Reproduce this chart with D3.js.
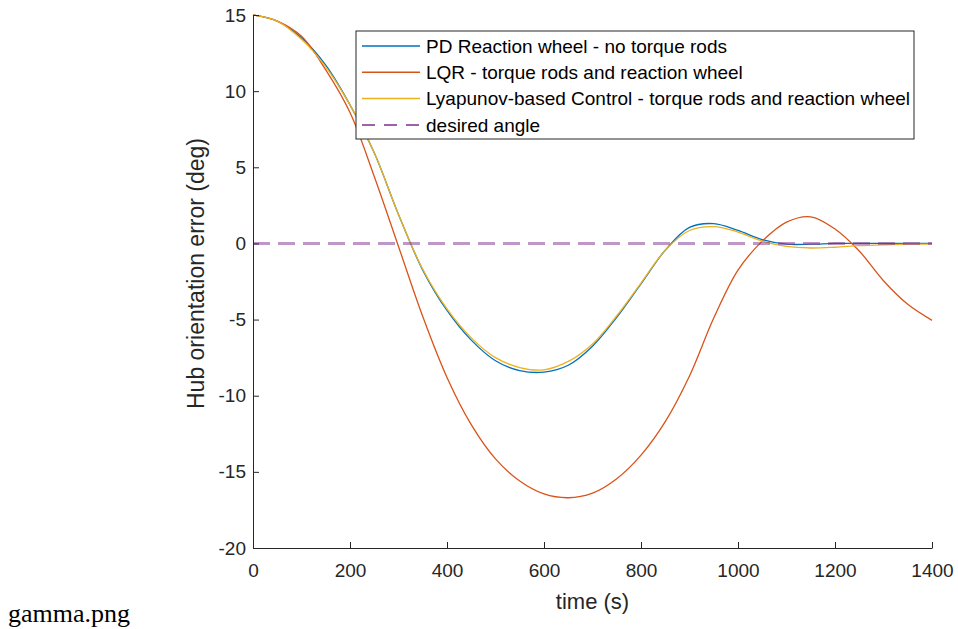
<!DOCTYPE html>
<html>
<head>
<meta charset="utf-8">
<script src="https://cdn.jsdelivr.net/npm/d3@7"></script>
<style>
  body { margin: 0; background: #fff; }
  svg { display: block; }
  .axis text { font-family: "Liberation Sans", Arial, sans-serif; font-size: 19px; fill: #262626; }
  .axis path, .axis line { stroke: #262626; }
  .label { font-family: "Liberation Sans", Arial, sans-serif; font-size: 22px; fill: #262626; }
  .legend text { font-family: "Liberation Sans", Arial, sans-serif; font-size: 19px; fill: #000; }
  .caption { font-family: "Liberation Serif", "Times New Roman", serif; font-size: 26px; fill: #000; }
</style>
</head>
<body>
<div id="viz"></div>
<script>
// time samples (s)
var times = [0, 50, 100, 150, 200, 250, 300, 350, 400, 450, 500, 550, 600, 650, 700,
             750, 800, 850, 900, 950, 1000, 1050, 1100, 1150, 1200, 1250, 1300, 1350, 1400];

// hub orientation error (deg)
var pdVals   = [15.0, 14.6, 13.5, 11.7, 9.1, 5.95, 1.9, -1.75, -4.4, -6.35, -7.7, -8.35, -8.45, -8.0, -6.75,
                -4.85, -2.65, -0.45, 1.05, 1.3, 0.85, 0.25, -0.05, -0.05, 0.0, 0.0, 0.0, 0.0, 0.0];
var lqrVals  = [15.0, 14.6, 13.6, 11.4, 8.6, 4.4, -0.2, -4.8, -8.8, -11.9, -14.15, -15.6, -16.45, -16.7, -16.4,
                -15.45, -13.9, -11.7, -8.7, -4.9, -1.75, 0.15, 1.4, 1.75, 0.95, -0.5, -2.45, -4.0, -5.05];
var lyapVals = [15.0, 14.6, 13.4, 11.6, 9.1, 5.95, 1.9, -1.7, -4.3, -6.2, -7.5, -8.15, -8.3, -7.75, -6.6,
                -4.75, -2.6, -0.45, 0.85, 1.1, 0.75, 0.15, -0.2, -0.3, -0.25, -0.15, -0.1, -0.05, -0.05];
var desiredT = [0, 1400];
var desiredVals = [0, 0];

var xTicks = [0, 200, 400, 600, 800, 1000, 1200, 1400];
var yTicks = [-20, -15, -10, -5, 0, 5, 10, 15];

var seriesNames = ['PD Reaction wheel - no torque rods',
                   'LQR - torque rods and reaction wheel',
                   'Lyapunov-based Control - torque rods and reaction wheel',
                   'desired angle'];
var seriesColors = ['#0072BD', '#D95319', '#EDB120', '#7E2F8E'];

var W = 958, H = 629;
var pLeft = 253, pRight = 932, pTop = 15, pBottom = 548;

var svg = d3.select('#viz')
  .append('svg')
  .attr('width', W)
  .attr('height', H);

var x = d3.scaleLinear().domain([0, 1400]).range([pLeft, pRight]);
var y = d3.scaleLinear().domain([-20, 15]).range([pBottom, pTop]);

function pts(ts, vs) {
  return ts.map(function(t, i) { return [t, vs[i]]; });
}

var line = d3.line()
  .x(function(d) { return x(d[0]); })
  .y(function(d) { return y(d[1]); })
  .curve(d3.curveCatmullRom);

var series = [pts(times, pdVals), pts(times, lqrVals), pts(times, lyapVals)];

svg.append('g')
  .selectAll('path')
  .data(series)
  .enter()
  .append('path')
  .attr('d', line)
  .attr('fill', 'none')
  .attr('stroke', function(d, i) { return seriesColors[i]; })
  .attr('stroke-width', 1.3);

// desired angle
svg.append('path')
  .attr('d', line.curve(d3.curveLinear)(pts(desiredT, desiredVals)))
  .attr('fill', 'none')
  .attr('stroke', seriesColors[3])
  .attr('stroke-opacity', 0.5)
  .attr('stroke-width', 3)
  .attr('stroke-dasharray', '17,8');

// axes, ticks pointing inward like matlab
svg.append('g')
  .attr('class', 'axis')
  .attr('transform', 'translate(0,' + pBottom + ')')
  .call(d3.axisBottom(x).tickValues(xTicks).tickFormat(d3.format('d'))
    .tickSizeInner(-6).tickSizeOuter(0).tickPadding(16));

svg.append('g')
  .attr('class', 'axis')
  .attr('transform', 'translate(' + pLeft + ',0)')
  .call(d3.axisLeft(y).tickValues(yTicks).tickFormat(d3.format('d'))
    .tickSizeInner(-6).tickSizeOuter(0).tickPadding(7));

svg.selectAll('.axis text').text(function(d) { return String(d); });

svg.append('text')
  .attr('class', 'label')
  .attr('x', (pLeft + pRight) / 2)
  .attr('y', 609)
  .attr('text-anchor', 'middle')
  .text('time (s)');

svg.append('text')
  .attr('class', 'label')
  .style('font-size', '23px')
  .attr('transform', 'translate(204,' + ((pTop + pBottom) / 2 - 8) + ') rotate(-90)')
  .attr('text-anchor', 'middle')
  .text('Hub orientation error (deg)');

// legend
var lg = svg.append('g').attr('class', 'legend');
lg.append('rect')
  .attr('x', 356).attr('y', 31)
  .attr('width', 558).attr('height', 108)
  .attr('fill', '#fff')
  .attr('stroke', '#262626');

var row = lg.selectAll('.row')
  .data(seriesNames)
  .enter()
  .append('g')
  .attr('class', 'row')
  .attr('transform', function(d, i) { return 'translate(0,' + (46 + i * 26.3) + ')'; });

row.append('line')
  .attr('x1', 362).attr('x2', 420)
  .attr('stroke', function(d, i) { return seriesColors[i]; })
  .attr('stroke-width', 1.5)
  .attr('stroke-dasharray', function(d, i) { return i === 3 ? '13,9' : null; });

row.append('text')
  .attr('x', 426)
  .attr('dy', '0.35em')
  .text(function(d) { return d; });

svg.append('text')
  .attr('class', 'caption')
  .attr('x', 8)
  .attr('y', 622)
  .text('gamma.png');
</script>
</body>
</html>
